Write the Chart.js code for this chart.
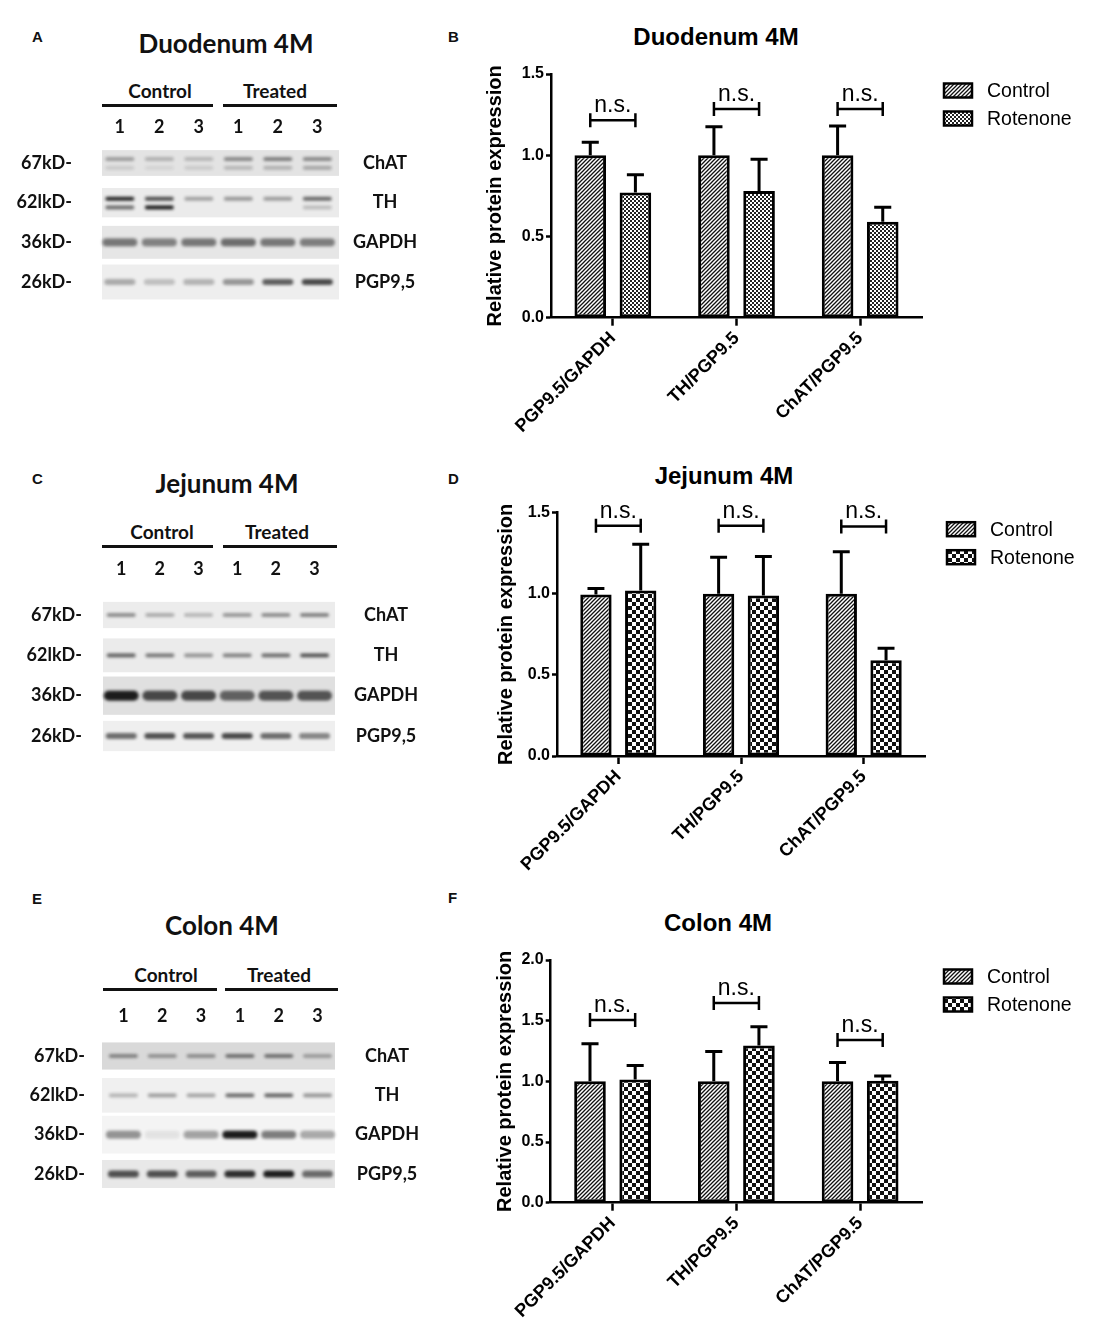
<!DOCTYPE html>
<html><head><meta charset="utf-8">
<script src="https://cdn.jsdelivr.net/npm/chart.js@4.4.1/dist/chart.umd.min.js"></script>
<style>
html,body{margin:0;padding:0;background:#fff;}
#page{position:relative;width:1096px;height:1339px;overflow:hidden;background:#fff;}
.t{position:absolute;transform:translate(-50%,-50%);white-space:nowrap;line-height:1;color:#111;}
.letter{position:absolute;transform:translate(0,-50%);font:bold 15px "Liberation Sans",Arial,sans-serif;line-height:1;color:#111;}
.blotTitle{font:bold 26px Lato,sans-serif;}
.grp{font:bold 19px Lato,sans-serif;}
.chartTitle{font:bold 24px "Liberation Sans",Arial,sans-serif;color:#000;}
.rule{position:absolute;height:0;border-top:3px solid #111;}
canvas{position:absolute;}
</style></head>
<body><div id="page"></div>
<script>
// ================= DATA =================
const categories = ['PGP9.5/GAPDH', 'TH/PGP9.5', 'ChAT/PGP9.5'];
const seriesNames = ['Control', 'Rotenone'];
const sigText = 'n.s.';
const yAxisTitle = 'Relative protein expression';
const yTicks15 = [0, 0.5, 1.0, 1.5];
const yTicks20 = [0, 0.5, 1.0, 1.5, 2.0];

// Duodenum 4M (B)
const duoControl    = [1.0, 1.0, 1.0];
const duoControlSD  = [0.08, 0.175, 0.18];
const duoRotenone   = [0.77, 0.78, 0.59];
const duoRotenoneSD = [0.11, 0.195, 0.09];
const duoBracket    = [1.215, 1.285, 1.285];
// Jejunum 4M (D)
const jejControl    = [0.995, 1.0, 1.0];
const jejControlSD  = [0.037, 0.225, 0.26];
const jejRotenone   = [1.02, 0.99, 0.59];
const jejRotenoneSD = [0.285, 0.24, 0.075];
const jejBracket    = [1.42, 1.42, 1.415];
// Colon 4M (F)
const colControl    = [1.0, 1.0, 1.0];
const colControlSD  = [0.31, 0.245, 0.155];
const colRotenone   = [1.015, 1.295, 1.005];
const colRotenoneSD = [0.115, 0.155, 0.04];
const colBracket    = [1.505, 1.645, 1.34];

// Western blots: band darkness (0..1) per lane
const laneLabels    = ['1', '2', '3', '1', '2', '3'];
const groupLabels   = ['Control', 'Treated'];
const proteinLabels = ['ChAT', 'TH', 'GAPDH', 'PGP9,5'];
const markerLabels  = ['67kD-', '62lkD-', '36kD-', '26kD-'];

const duoChAT   = [0.35, 0.25, 0.22, 0.45, 0.5, 0.45];
const duoChATlo = [0.12, 0.08, 0.12, 0.22, 0.25, 0.3];
const duoTH     = [0.95, 0.75, 0.35, 0.4, 0.38, 0.62];
const duoTHlo   = [0.6, 1.0, 0, 0, 0, 0.22];
const duoGAPDH  = [0.55, 0.5, 0.55, 0.6, 0.55, 0.52];
const duoPGP    = [0.32, 0.22, 0.28, 0.42, 0.68, 0.78];

const jejChAT   = [0.45, 0.3, 0.25, 0.4, 0.45, 0.5];
const jejTH     = [0.65, 0.55, 0.42, 0.5, 0.6, 0.72];
const jejGAPDH  = [1.0, 0.78, 0.78, 0.65, 0.72, 0.72];
const jejPGP    = [0.62, 0.75, 0.72, 0.78, 0.62, 0.5];

const colChAT   = [0.45, 0.38, 0.4, 0.55, 0.55, 0.32];
const colTH     = [0.28, 0.38, 0.35, 0.62, 0.65, 0.42];
const colGAPDH  = [0.45, 0.08, 0.38, 1.0, 0.55, 0.35];
const colPGP    = [0.75, 0.75, 0.68, 0.92, 1.0, 0.62];

// ================= HELPERS =================
const page = document.getElementById('page');
const ARIAL = '"Liberation Sans", Arial, sans-serif';
const LATO = 'Lato, sans-serif';

function txt(s, x, y, cls) {
  const d = document.createElement('div');
  d.className = cls; d.textContent = s;
  d.style.left = x + 'px'; d.style.top = y + 'px';
  page.appendChild(d);
}
function rule(x1, x2, y) {
  const d = document.createElement('div');
  d.className = 'rule';
  d.style.left = x1 + 'px'; d.style.width = (x2 - x1) + 'px'; d.style.top = (y - 1.5) + 'px';
  page.appendChild(d);
}
function hatchPattern() {
  const s = 4, c = document.createElement('canvas'); c.width = c.height = s;
  const g = c.getContext('2d');
  g.fillStyle = '#fff'; g.fillRect(0, 0, s, s);
  g.strokeStyle = '#111'; g.lineWidth = 1.3;
  g.beginPath();
  g.moveTo(-1, s + 1); g.lineTo(s + 1, -1);
  g.moveTo(-1, 1); g.lineTo(1, -1);
  g.moveTo(s - 1, s + 1); g.lineTo(s + 1, s - 1);
  g.stroke();
  return g.createPattern(c, 'repeat');
}
function checkerPattern(cell, col) {
  const c = document.createElement('canvas'); c.width = c.height = cell * 2;
  const g = c.getContext('2d');
  g.fillStyle = '#fff'; g.fillRect(0, 0, cell * 2, cell * 2);
  g.fillStyle = col; g.fillRect(0, 0, cell, cell); g.fillRect(cell, cell, cell, cell);
  return g.createPattern(c, 'repeat');
}
function bandImg(alpha, thick, w) {
  const c = document.createElement('canvas');
  c.width = w + 10; c.height = thick + 10;
  if (alpha <= 0) return c;
  const g = c.getContext('2d');
  g.filter = 'blur(1.6px)';
  g.fillStyle = 'rgba(28,28,28,' + alpha + ')';
  g.beginPath();
  if (g.roundRect) g.roundRect(5, 5, w, thick, thick / 2);
  else g.ellipse(5 + w / 2, 5 + thick / 2, w / 2, thick / 2, 0, 0, Math.PI * 2);
  g.fill();
  return c;
}

// ---- plugins for bar charts ----
function errorBars(sds) {
  return { id: 'errbars', afterDatasetsDraw(ch) {
    const ctx = ch.ctx, y = ch.scales.y;
    ctx.save(); ctx.strokeStyle = '#000'; ctx.lineWidth = 3; ctx.lineCap = 'butt';
    ch.data.datasets.forEach((ds, i) => {
      ch.getDatasetMeta(i).data.forEach((bar, j) => {
        const top = y.getPixelForValue(ds.data[j] + sds[i][j]);
        const cap = bar.width * 0.27;
        ctx.beginPath();
        ctx.moveTo(bar.x, bar.y); ctx.lineTo(bar.x, top);
        ctx.moveTo(bar.x - cap, top); ctx.lineTo(bar.x + cap, top);
        ctx.stroke();
      });
    });
    ctx.restore();
  }};
}
function brackets(vals) {
  return { id: 'brackets', afterDatasetsDraw(ch) {
    const ctx = ch.ctx, y = ch.scales.y;
    const m0 = ch.getDatasetMeta(0).data, m1 = ch.getDatasetMeta(1).data;
    ctx.save(); ctx.strokeStyle = '#000'; ctx.lineWidth = 2.5; ctx.fillStyle = '#000';
    ctx.font = '23px ' + ARIAL; ctx.textAlign = 'center'; ctx.textBaseline = 'alphabetic';
    vals.forEach((v, j) => {
      const x1 = m0[j].x, x2 = m1[j].x, py = y.getPixelForValue(v);
      ctx.beginPath();
      ctx.moveTo(x1, py); ctx.lineTo(x2, py);
      ctx.moveTo(x1, py - 7); ctx.lineTo(x1, py + 7);
      ctx.moveTo(x2, py - 7); ctx.lineTo(x2, py + 7);
      ctx.stroke();
      ctx.fillText(sigText, (x1 + x2) / 2, py - 8);
    });
    ctx.restore();
  }};
}
const legendBoxes = { id: 'legendBoxes', afterDraw(ch) {
  const ctx = ch.ctx, ca = ch.chartArea;
  const x0 = ca.right + 22;
  ctx.save();
  ch.data.datasets.forEach((ds, i) => {
    const yc = ca.top + 16.5 + i * 28;
    ctx.fillStyle = ds.backgroundColor; ctx.fillRect(x0, yc - 7, 28, 14);
    ctx.strokeStyle = '#000'; ctx.lineWidth = 2.5; ctx.strokeRect(x0, yc - 7, 28, 14);
    ctx.fillStyle = '#000'; ctx.font = '19.5px ' + ARIAL; ctx.textBaseline = 'middle'; ctx.textAlign = 'left';
    ctx.fillText(ds.label, x0 + 43, yc + 1);
  });
  ctx.restore();
}};

const HATCH = hatchPattern();

function barChart(o) {
  const cv = document.createElement('canvas');
  cv.width = 656; cv.height = o.height;
  cv.style.left = '440px'; cv.style.top = o.top + 'px';
  cv.style.width = '656px'; cv.style.height = o.height + 'px';
  page.appendChild(cv);
  const common = { borderColor: '#000', borderWidth: 3, borderSkipped: false, categoryPercentage: 0.73, barPercentage: 0.70 };
  new Chart(cv, {
    type: 'bar',
    data: { labels: categories, datasets: [
      Object.assign({ label: seriesNames[0], data: o.control, backgroundColor: HATCH }, common),
      Object.assign({ label: seriesNames[1], data: o.rot, backgroundColor: o.rotPattern }, common)
    ]},
    options: {
      responsive: false, animation: false, events: [], devicePixelRatio: 1,
      layout: { padding: { left: o.padL, top: o.areaTop - o.top, right: 1096 - o.areaRight, bottom: 0 } },
      plugins: { legend: { display: false }, tooltip: { enabled: false } },
      scales: {
        x: {
          ticks: { color: '#000', font: { family: ARIAL, size: 18, weight: 'bold' }, maxRotation: 45, minRotation: 45, autoSkip: false, padding: 2 },
          grid: { offset: false, drawOnChartArea: false, drawTicks: true, tickLength: 8, tickWidth: 2.5, tickColor: '#000' },
          border: { display: true, color: '#000', width: 2.5 },
          afterFit: s => { s.height = o.top + o.height - o.areaBottom; }
        },
        y: {
          min: 0, max: o.ticks[o.ticks.length - 1],
          afterBuildTicks: s => { s.ticks = o.ticks.map(v => ({ value: v })); },
          ticks: { color: '#000', font: { family: ARIAL, size: 16, weight: 'bold' }, padding: 2, callback: v => Number(v).toFixed(1) },
          grid: { drawOnChartArea: false, drawTicks: true, tickLength: 5, tickWidth: 2.5, tickColor: '#000' },
          border: { display: true, color: '#000', width: 2.5 },
          title: { display: true, text: yAxisTitle, color: '#000', font: { family: ARIAL, size: 20, weight: 'bold' }, padding: { top: 3, bottom: 3 } },
          afterFit: s => { s.width = o.yW; }
        }
      }
    },
    plugins: [errorBars([o.controlSD, o.rotSD]), brackets(o.bracket), legendBoxes]
  });
}

function blot(o) {
  const sp = (o.lastY - o.firstY) / 3;
  const areaTop = o.firstY - sp / 2, areaBottom = o.lastY + sp / 2;
  const cTop = Math.round(areaTop - 45);
  const headH = areaTop - cTop;
  const h = Math.ceil(areaBottom + 55 - cTop);
  const padB = h - (areaBottom - cTop);
  const cv = document.createElement('canvas');
  cv.width = 440; cv.height = h;
  cv.style.left = '0px'; cv.style.top = cTop + 'px';
  cv.style.width = '440px'; cv.style.height = h + 'px';
  page.appendChild(cv);

  const datasets = [];
  o.rows.forEach((vals, r) => {
    const low = o.lower[r];
    const off = low ? -0.1 : 0;
    datasets.push({ data: vals.map((v, i) => ({ x: i + 1, y: r + off })),
      pointStyle: vals.map(v => bandImg(v, o.thick[r], o.bw[r])), pointRadius: 3, clip: false });
    if (low) datasets.push({ data: low.map((v, i) => ({ x: i + 1, y: r + 0.12 })),
      pointStyle: low.map(v => bandImg(v, o.thickLow, o.bw[r])), pointRadius: 3, clip: false });
  });
  const strips = { id: 'strips', beforeDatasetsDraw(ch) {
    const ctx = ch.ctx, ca = ch.chartArea, y = ch.scales.y;
    const s = Math.abs(y.getPixelForValue(1) - y.getPixelForValue(0));
    o.strip.forEach((c, r) => {
      const yc = y.getPixelForValue(r), hh = o.stripFrac[r] * s;
      ctx.fillStyle = c; ctx.fillRect(ca.left, yc - hh / 2, ca.right - ca.left, hh);
    });
  }};
  const labFont = { family: LATO, size: 18, weight: 'bold' };
  const rowTicks = s => { s.ticks = proteinLabels.map((_, i) => ({ value: i })); };
  const noGrid = { display: false, drawTicks: false };
  new Chart(cv, {
    type: 'scatter',
    data: { datasets },
    options: {
      responsive: false, animation: false, events: [], devicePixelRatio: 1,
      layout: { padding: { left: 0, right: 0, top: 0, bottom: padB } },
      plugins: { legend: { display: false }, tooltip: { enabled: false } },
      scales: {
        x: { type: 'linear', position: 'top', min: o.laneMin, max: o.laneMin + 6,
          afterBuildTicks: s => { s.ticks = laneLabels.map((_, i) => ({ value: i + 1 })); },
          ticks: { autoSkip: false, maxRotation: 0, color: '#111', font: labFont, padding: o.lanePad, callback: v => laneLabels[Math.round(v) - 1] },
          grid: noGrid, border: { display: false },
          afterFit: s => { s.height = headH; } },
        y: { type: 'linear', position: 'left', reverse: true, min: -0.5, max: 3.5,
          afterBuildTicks: rowTicks,
          ticks: { color: '#111', font: labFont, padding: o.leftPad, callback: v => markerLabels[Math.round(v)] },
          grid: noGrid, border: { display: false },
          afterFit: s => { s.width = o.areaL; } },
        yR: { type: 'linear', position: 'right', reverse: true, min: -0.5, max: 3.5,
          afterBuildTicks: rowTicks,
          ticks: { color: '#111', font: labFont, padding: o.rightPad, crossAlign: 'center', callback: v => proteinLabels[Math.round(v)] },
          grid: noGrid, border: { display: false },
          afterFit: s => { s.width = 440 - o.areaR; } }
      }
    },
    plugins: [strips]
  });
}

// ================= BUILD =================
// panel letters
txt('A', 32, 36, 'letter'); txt('B', 448, 36, 'letter');
txt('C', 32, 478, 'letter'); txt('D', 448, 478, 'letter');
txt('E', 32, 898, 'letter'); txt('F', 448, 897, 'letter');

// blot titles and headers
txt('Duodenum 4M', 226, 43, 't blotTitle');
txt('Jejunum 4M', 227, 483, 't blotTitle');
txt('Colon 4M', 222, 925, 't blotTitle');
[[90, 105, 160, 275, 102, 213, 223, 337], [531, 546, 162, 277, 102, 213, 223, 337], [974, 989, 166, 279, 103, 217, 225, 338]]
  .forEach(h => {
    txt(groupLabels[0], h[2], h[0], 't grp'); txt(groupLabels[1], h[3], h[0], 't grp');
    rule(h[4], h[5], h[1]); rule(h[6], h[7], h[1]);
  });

blot({ rows: [duoChAT, duoTH, duoGAPDH, duoPGP], lower: [duoChATlo, duoTHlo, null, null],
  firstY: 163, lastY: 282, laneMin: 0.55, lanePad: 5.4, leftPad: 30, rightPad: 14, areaL: 102, areaR: 339,
  strip: ['#e3e3e3', '#ebebeb', '#e6e6e6', '#eeeeee'], stripFrac: [0.65, 0.74, 0.83, 0.88],
  thick: [4, 4, 8, 6], thickLow: 4, bw: [29, 29, 35, 31] });
blot({ rows: [jejChAT, jejTH, jejGAPDH, jejPGP], lower: [null, null, null, null],
  firstY: 615, lastY: 736, laneMin: 0.53, lanePad: 15, leftPad: 21, rightPad: 19, areaL: 103, areaR: 335,
  strip: ['#ececec', '#ebebeb', '#e0e0e0', '#efefef'], stripFrac: [0.65, 0.84, 0.95, 0.75],
  thick: [4, 4, 10, 6], thickLow: 4, bw: [29, 29, 35, 31] });
blot({ rows: [colChAT, colTH, colGAPDH, colPGP], lower: [null, null, null, null],
  firstY: 1056, lastY: 1174, laneMin: 0.45, lanePad: 9.5, leftPad: 17, rightPad: 20, areaL: 102, areaR: 335,
  strip: ['#d9d9d9', '#f0f0f0', '#f4f4f4', '#e8e8e8'], stripFrac: [0.69, 0.88, 0.96, 0.71],
  thick: [4, 4, 8, 7], thickLow: 4, bw: [29, 29, 35, 31] });

// bar chart titles
txt('Duodenum 4M', 716, 37, 't chartTitle');
txt('Jejunum 4M', 724, 476, 't chartTitle');
txt('Colon 4M', 718, 923, 't chartTitle');

barChart({ top: 50, height: 410, padL: 40.6, yW: 70.4, areaTop: 74, areaBottom: 317.7, areaRight: 922,
  ticks: yTicks15, control: duoControl, controlSD: duoControlSD, rot: duoRotenone, rotSD: duoRotenoneSD,
  bracket: duoBracket, rotPattern: checkerPattern(2, '#222') });
barChart({ top: 490, height: 410, padL: 51, yW: 66, areaTop: 512.7, areaBottom: 756, areaRight: 925,
  ticks: yTicks15, control: jejControl, controlSD: jejControlSD, rot: jejRotenone, rotSD: jejRotenoneSD,
  bracket: jejBracket, rotPattern: checkerPattern(4, '#111') });
barChart({ top: 935, height: 404, padL: 50.6, yW: 60.1, areaTop: 960, areaBottom: 1202.7, areaRight: 922,
  ticks: yTicks20, control: colControl, controlSD: colControlSD, rot: colRotenone, rotSD: colRotenoneSD,
  bracket: colBracket, rotPattern: checkerPattern(4, '#111') });
</script></body></html>
